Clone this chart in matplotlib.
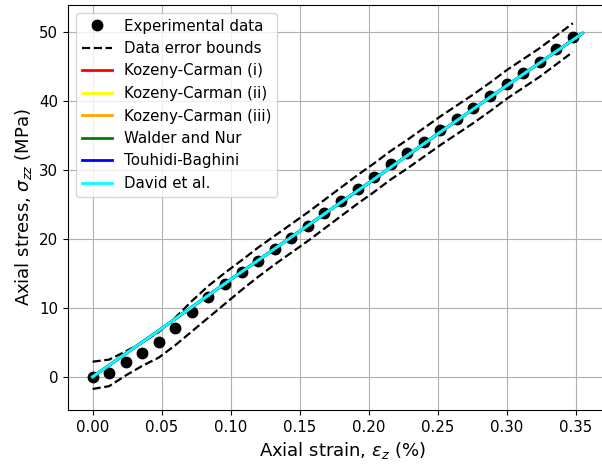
import numpy as np
import matplotlib
matplotlib.use("Agg")
import matplotlib.pyplot as plt

# experimental data (strain in %, stress in MPa)
strain = [0.000, 0.012, 0.024, 0.036, 0.048, 0.060, 0.072, 0.084, 0.096, 0.108,
          0.120, 0.132, 0.144, 0.156, 0.168, 0.180, 0.192, 0.204, 0.216, 0.228,
          0.240, 0.252, 0.264, 0.276, 0.288, 0.300, 0.312, 0.324, 0.336, 0.348]
stress = [0.0, 0.5, 2.1, 3.4, 5.0, 7.05, 9.45, 11.6, 13.4, 15.2,
          16.8, 18.5, 20.2, 21.9, 23.7, 25.5, 27.3, 29.0, 30.8, 32.4,
          34.1, 35.8, 37.4, 39.0, 40.7, 42.5, 44.1, 45.7, 47.5, 49.3]

# error bounds
upper = [2.2, 2.5, 3.7, 5.0, 6.5, 8.6, 11.0, 13.2, 15.1, 16.9,
         18.75, 20.45, 22.15, 23.85, 25.65, 27.45, 29.25, 30.95, 32.75, 34.35,
         36.05, 37.75, 39.35, 40.95, 42.65, 44.45, 46.05, 47.65, 49.45, 51.25]
lower = [-1.75, -1.35, 0.2, 1.6, 2.8, 4.6, 6.6, 8.6, 10.6, 12.6,
         14.5, 16.3, 18.0, 19.7, 21.5, 23.3, 25.1, 26.8, 28.6, 30.2,
         31.9, 33.6, 35.2, 36.8, 38.5, 40.3, 41.9, 43.5, 45.3, 47.1]

# model predictions (all overlap)
model_strain = [0.0, 0.05, 0.10, 0.15, 0.20, 0.25, 0.30, 0.355]
model_stress = [0.0, 7.0, 14.1, 21.1, 28.1, 35.2, 42.2, 49.8]

models = ["Kozeny-Carman (i)", "Kozeny-Carman (ii)", "Kozeny-Carman (iii)",
          "Walder and Nur", "Touhidi-Baghini", "David et al."]
colors = ["red", "yellow", "orange", "green", "blue", "cyan"]

fig = plt.figure(figsize=(6.02, 4.66), dpi=100)
# right spine falls outside the picture, as in the original crop
ax = fig.add_axes([68 / 602, 56 / 466, 549 / 602, 405 / 466])
ax.spines["right"].set_visible(False)

ax.plot(strain, stress, "ko", markersize=7.5, label="Experimental data")
ax.plot(strain, upper, "k--", lw=1.6, label="Data error bounds")
ax.plot(strain, lower, "k--", lw=1.6)
for name, c in zip(models, colors):
    ax.plot(model_strain, model_stress, color=c, lw=2, label=name)

ax.set_xlim(-0.0178, 0.38)
ax.set_ylim(-4.8, 53.9)
ax.set_xticks(np.arange(0, 0.36, 0.05))
ax.set_yticks(np.arange(0, 51, 10))
ax.set_xlabel(r"Axial strain, $\varepsilon_z$ (%)", fontsize=13)
ax.set_ylabel(r"Axial stress, $\sigma_{zz}$ (MPa)", fontsize=13)
ax.tick_params(labelsize=10.8)
ax.grid(True)
ax.legend(loc="upper left", fontsize=10.8)

fig.savefig("out.png", dpi=100)
